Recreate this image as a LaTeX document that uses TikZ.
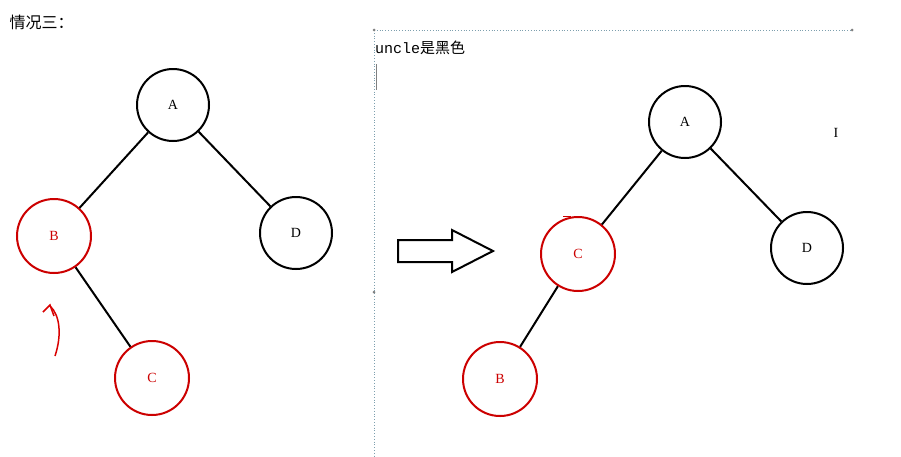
\documentclass[tikz,border=0pt]{standalone}
\usepackage{fontspec}
\setmainfont{Liberation Serif}
\newfontfamily\cjk{Noto Sans CJK SC}
\newfontfamily\mono{Liberation Mono}
\begin{document}
\begin{tikzpicture}[x=1pt,y=-1pt,
  bk/.style={circle,draw=black,line width=2pt,minimum size=72pt,inner sep=0pt,font=\fontsize{14}{14}\selectfont},
  rd/.style={circle,draw=red!80!black,line width=2pt,minimum size=74pt,inner sep=0pt,text=red!80!black,font=\fontsize{14}{14}\selectfont},
  edge/.style={line width=2pt}]
\fill[white] (0,0) rectangle (901,456);
\useasboundingbox (0,0) rectangle (901,456);
\node[anchor=west,font=\cjk\fontsize{16}{16}\selectfont] (t) at (6,22) {情况三：};
% left tree
\node[bk] (A1) at (173,105) {A};
\node[rd] (B1) at (54,236) {B};
\node[bk] (D1) at (296,233) {D};
\node[rd] (C1) at (152,378) {C};
\draw[edge] (A1) -- (B1); \draw[edge] (A1) -- (D1); \draw[edge] (B1) -- (C1);
\draw[red!85!black,line width=1.5pt] (55,356) .. controls (62,335) and (60,315) .. (50,306);
\draw[red!85!black,line width=1.5pt] (43,312) -- (50,305) -- (54,316);
% frame
\draw[gray!70!cyan,dotted,line width=0.8pt] (374,30) -- (374,456);
\draw[gray!70!cyan,dotted,line width=0.8pt] (374,30) -- (852,30);
\foreach \p in {(374,30),(852,30),(374,292)} \fill[gray] \p circle (1.5pt);
\node[anchor=west,font=\fontsize{15}{15}\selectfont,inner sep=0pt] (u) at (375,48) {{\mono uncle}{\cjk 是黑色}};
\draw[gray,line width=1pt] (376,64) -- (376,90);
% arrow
\draw[line width=2pt,line join=miter] (398,240) -- (452,240) -- (452,230) -- (493,251) -- (452,272) -- (452,262) -- (398,262) -- cycle;
% right tree
\node[bk] (A2) at (685,122) {A};
\node[rd] (C2) at (578,254) {C};
\node[bk] (D2) at (807,248) {D};
\node[rd] (B2) at (500,379) {B};
\draw[edge] (A2) -- (C2); \draw[edge] (A2) -- (D2); \draw[edge] (C2) -- (B2);
\draw[red!80!black,line width=1pt] (563,216) -- (571,216);
\node[font=\fontsize{14}{14}\selectfont] (I) at (836,133) {I};
\end{tikzpicture}
\end{document}
